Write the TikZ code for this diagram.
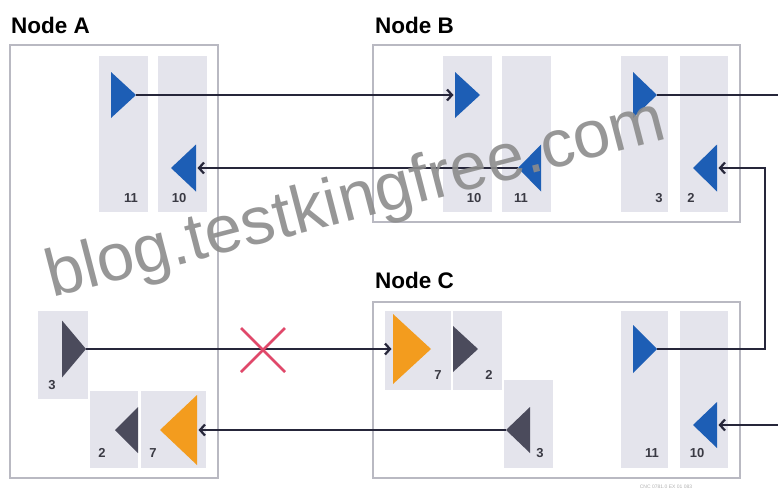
\documentclass[tikz,border=0pt]{standalone}
\usepackage{fontspec}
\setmainfont{Liberation Sans}
\usetikzlibrary{arrows.meta}
\definecolor{boxline}{HTML}{B9B9C2}
\definecolor{colfill}{HTML}{E4E4EC}
\definecolor{portblue}{HTML}{1D5EB5}
\definecolor{portdark}{HTML}{4B4B5C}
\definecolor{portorange}{HTML}{F39C1E}
\definecolor{wirecol}{HTML}{26263A}
\definecolor{crossred}{HTML}{E0486A}
\definecolor{numtext}{HTML}{3A3A44}
\definecolor{wmgray}{HTML}{8C8C8C}
\tikzset{
  nodebox/.style={draw=boxline, line width=2pt, fill=none, inner sep=0pt, outer sep=0pt},
  colbox/.style={fill=colfill, draw=none, inner sep=0pt, outer sep=0pt},
  nodelabel/.style={font=\bfseries\fontsize{22.5}{22.5}\selectfont, text=black, anchor=west, inner sep=0pt},
  numlabel/.style={font=\bfseries\fontsize{13}{13}\selectfont, text=numtext, inner sep=0pt},
  wire/.style={draw=wirecol, line width=2.2pt},
  wirearrow/.style={wire, -{Straight Barb[length=5pt,width=11pt]}, shorten >=1.5pt},
  crossline/.style={draw=crossred, line width=2.6pt},
  watermark/.style={font=\fontsize{67}{67}\selectfont, text=wmgray, opacity=0.9, inner sep=0pt},
  tinytext/.style={font=\fontsize{5}{5}\selectfont, text=gray!60, inner sep=0pt}
}
% name, apex x, apex y, direction (1 right / -1 left), width, height, colour
\newcommand{\porttri}[7]{%
  \fill[#7] (#2,#3) -- ++({-(#4)*(#5)},{(#6)/2}) -- ++(0,{-(#6)}) -- cycle;
  \coordinate (#1) at (#2,#3);
  \coordinate (#1-base) at ({(#2)-(#4)*(#5)},#3);}
% name, x1, y1, x2, y2
\newcommand{\portcol}[5]{%
  \node[colbox, minimum width={(#4)-(#2)}, minimum height={(#5)-(#3)}] (#1) at ({((#2)+(#4))/2},{((#3)+(#5))/2}) {};}
\begin{document}
\begin{tikzpicture}[x=1pt, y=-1pt]
\useasboundingbox (0,0) rectangle (778,491);
\fill[white] (0,0) rectangle (778,491);

% outer boxes
\node[nodebox, minimum width=208, minimum height=433] (boxA) at (114,261.5) {};
\node[nodebox, minimum width=367, minimum height=177] (boxB) at (556.5,133.5) {};
\node[nodebox, minimum width=367, minimum height=176] (boxC) at (556.5,390) {};
\node[nodelabel] (labA) at (11,25) {Node A};
\node[nodelabel] (labB) at (375,25) {Node B};
\node[nodelabel] (labC) at (375,280) {Node C};

% port columns
\portcol{colA11}{99}{56}{148}{212}
\portcol{colA10}{158}{56}{207}{212}
\portcol{colA3}{38}{311}{88}{399}
\portcol{colA2}{90}{391}{138}{468}
\portcol{colA7}{141}{391}{206}{468}
\portcol{colB10}{443}{56}{492}{212}
\portcol{colB11}{502}{56}{551}{212}
\portcol{colB3}{621}{56}{668}{212}
\portcol{colB2}{680}{56}{728}{212}
\portcol{colC7}{385}{311}{451}{390}
\portcol{colC2}{453}{311}{502}{390}
\portcol{colC3}{504}{380}{553}{468}
\portcol{colC11}{621}{311}{668}{468}
\portcol{colC10}{680}{311}{728}{468}

% port triangles
\porttri{a11}{136}{95}{1}{25}{46}{portblue}
\porttri{a10}{171}{168}{-1}{25}{47}{portblue}
\porttri{a3}{86}{349}{1}{24}{57}{portdark}
\porttri{a2}{115}{430}{-1}{23}{46}{portdark}
\porttri{a7}{160}{430}{-1}{37}{70}{portorange}
\porttri{b10}{480}{95}{1}{25}{46}{portblue}
\porttri{b11}{518}{168}{-1}{23}{47}{portblue}
\porttri{b3}{657}{95}{1}{24}{46}{portblue}
\porttri{b2}{693}{168}{-1}{24}{47}{portblue}
\porttri{c7}{431}{349}{1}{38}{70}{portorange}
\porttri{c2}{478}{349}{1}{25}{46}{portdark}
\porttri{c3}{506}{430}{-1}{24}{46}{portdark}
\porttri{c11}{657}{349}{1}{24}{48}{portblue}
\porttri{c10}{693}{425}{-1}{24}{46}{portblue}

% port numbers
\node[numlabel] (nA11) at (131,198) {11};
\node[numlabel] (nA10) at (179,198) {10};
\node[numlabel] (nA3) at (52,385) {3};
\node[numlabel] (nA2) at (102,453) {2};
\node[numlabel] (nA7) at (153,453) {7};
\node[numlabel] (nB10) at (474,198) {10};
\node[numlabel] (nB11) at (521,198) {11};
\node[numlabel] (nB3) at (659,198) {3};
\node[numlabel] (nB2) at (691,198) {2};
\node[numlabel] (nC7) at (438,375) {7};
\node[numlabel] (nC2) at (489,375) {2};
\node[numlabel] (nC3) at (540,453) {3};
\node[numlabel] (nC11) at (652,453) {11};
\node[numlabel] (nC10) at (697,453) {10};

% free ends and bends
\coordinate (outB) at (778,95);
\coordinate (inC) at (778,425);
\coordinate (bendR) at (765,168);

% connectors
\draw[wirearrow] (a11) -- (b10-base);
\draw[wirearrow] (b11) -- (a10-base);
\draw[wire] (b3) -- (outB);
\draw[wirearrow] (c11) -| (bendR) -- (b2-base);
\draw[wirearrow] (inC) -- (c10-base);
\draw[wirearrow] (a3) -- (c7-base);
\draw[wirearrow] (c3) -- (a7-base);

% broken link
\coordinate (xmark) at (263,350);
\draw[crossline] ([shift={(-22,-22)}]xmark) -- ([shift={(22,22)}]xmark);
\draw[crossline] ([shift={(22,-22)}]xmark) -- ([shift={(-22,22)}]xmark);

% watermark and figure code
\node[watermark, rotate=14.5, anchor=base west] (wm) at (52,298) {blog.testkingfree.com};
\node[tinytext] (figcode) at (666,487) {CNC 0781.0 EX 01 083};
\end{tikzpicture}
\end{document}
